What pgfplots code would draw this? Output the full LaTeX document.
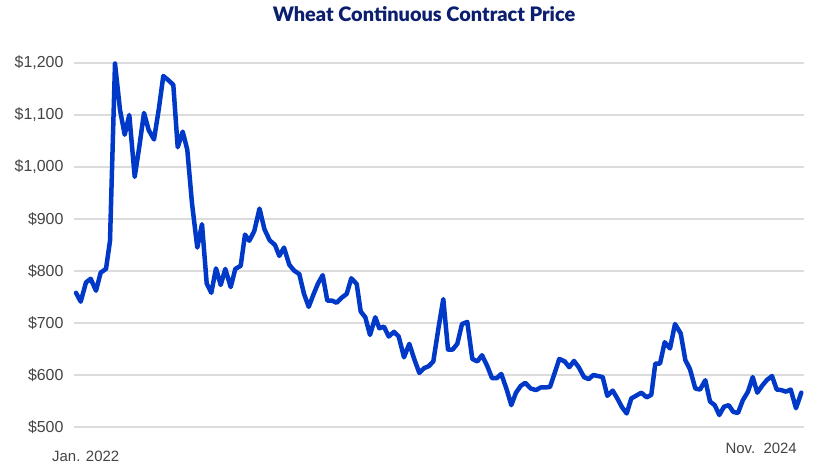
\documentclass[border=0pt]{standalone}
\usepackage{fontspec}
\setmainfont{Liberation Sans}
\newfontfamily\titlefont{Lato Black}
\usepackage{pgfplots}
\pgfplotsset{compat=1.18}
\definecolor{linecol}{RGB}{0,56,200}
\definecolor{titlecol}{RGB}{12,30,110}
\definecolor{gridcol}{RGB}{220,220,220}
\definecolor{textcol}{RGB}{68,68,68}
\begin{document}
\begin{tikzpicture}[x=1bp,y=1bp]
\useasboundingbox (0,0) rectangle (840,472);
\begin{axis}[
  at={(74bp,45bp)}, anchor=south west,
  scale only axis, width=730bp, height=364bp,
  xmin=74, xmax=804, ymin=500, ymax=1200,
  axis line style={draw=none},
  tick style={draw=none},
  xtick=\empty,
  ytick={500,600,...,1200},
  ymajorgrids,
  grid style={gridcol, line width=1.3bp},
  yticklabel={\$\pgfmathprintnumber{\tick}},
  yticklabel style={font=\fontsize{16}{19}\selectfont, text=textcol, xshift=-7bp},
  /pgf/number format/.cd, 1000 sep={,}, assume math mode=true,
  /pgfplots/.cd,
  clip=false,
]
\addplot[linecol, line width=4.5bp, line join=round, line cap=round] coordinates {
(76,758) (80.7,741) (86,778) (90.7,785) (96,762) (100.7,797) (106,804) (110,858)
(115,1199) (120,1110) (124.7,1062) (129.3,1100) (134.7,981) (139.3,1039) (144,1104)
(148.7,1071) (154,1053) (158.7,1110) (163.3,1175) (168.3,1167) (173.3,1158) (177.7,1038)
(182.7,1068) (187.3,1033) (192,930) (197.3,845) (202,890) (206.7,776) (211.3,758)
(216,805) (220.7,773) (225.3,804) (230.7,769) (235.3,804) (240.7,810) (245,870)
(249.3,858) (254.3,877) (259.5,920) (264.5,880) (269.7,859) (275,850) (279.3,829)
(284,845) (289.3,812) (294,801) (299.3,794) (304,756) (308.7,731) (313.3,754)
(318,776) (322.7,792) (327.3,743) (332,743) (336.7,739) (341.3,748) (346.7,756)
(351.3,786) (356.7,775) (360.7,722) (365.3,711) (370,677) (375.3,711) (379.3,690)
(384,693) (388.7,674) (394,683) (398.7,674) (404,634) (409.3,660) (414,632)
(419.3,604) (424,613) (428.7,617) (433.3,626) (438.7,693) (443.3,746) (448,649)
(452.7,649) (457.3,660) (462,698) (467.3,702) (472.3,631) (477.3,626) (482,638)
(487.3,617) (492,594) (496.7,594) (501.3,602) (506.7,572) (511.3,542) (516,566)
(520.7,579) (525.3,585) (530.7,574) (536,571) (540.7,576) (545.3,576) (550,577)
(554.7,604) (559.3,631) (564.7,626) (569.3,615) (574,627) (578.7,615) (584,596)
(588.7,592) (593.3,600) (598,598) (602.7,596) (607.3,560) (612.7,570) (617.3,555)
(622,538) (626.7,526) (631.3,555) (636,560) (641.3,566) (646.7,557) (651.3,562)
(655.3,622) (660,622) (664.7,663) (670,651) (675,698) (680.7,680) (685.3,629)
(690,611) (695.3,574) (700,572) (705.3,590) (710,549) (714.7,542) (719.3,523)
(724,539) (728.7,542) (733.3,529) (738,527) (742.7,551) (748,568) (752.7,596)
(757.3,566) (762,579) (766.7,590) (772,598) (776.7,572) (781.3,571) (786,568)
(790.7,572) (796,536) (801.3,566)
};
\end{axis}
\node[font=\titlefont\fontsize{20}{24}\selectfont, text=titlecol] at (424,458) {Wheat Continuous Contract Price};
\node[font=\fontsize{15}{18}\selectfont, text=textcol, anchor=west, inner sep=0pt] at (52,16) {Jan. 2022};
\node[font=\fontsize{15}{18}\selectfont, text=textcol, anchor=east, inner sep=0pt] at (797,24) {Nov.\ \ 2024};
\end{tikzpicture}
\end{document}
